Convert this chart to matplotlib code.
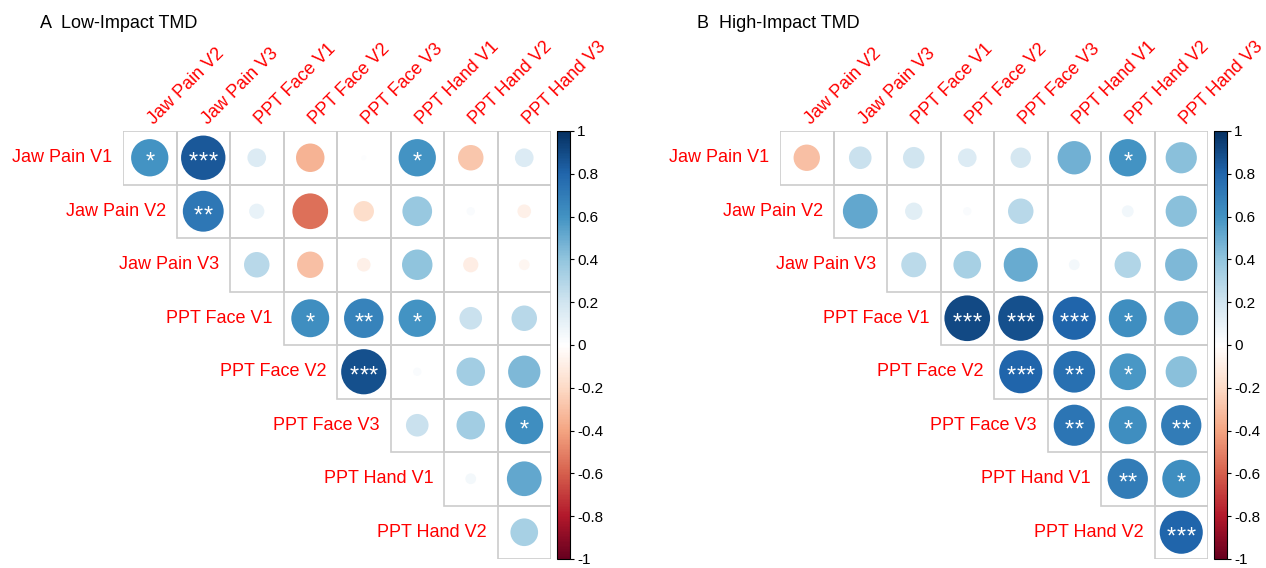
import numpy as np
import matplotlib.pyplot as plt
from matplotlib.colors import LinearSegmentedColormap, Normalize
from matplotlib.patches import Circle, Rectangle
from matplotlib.cm import ScalarMappable

plt.rcParams['font.family'] = ['Liberation Sans', 'DejaVu Sans']

row_labels = ['Jaw Pain V1', 'Jaw Pain V2', 'Jaw Pain V3', 'PPT Face V1',
              'PPT Face V2', 'PPT Face V3', 'PPT Hand V1', 'PPT Hand V2']
col_labels = ['Jaw Pain V2', 'Jaw Pain V3', 'PPT Face V1', 'PPT Face V2',
              'PPT Face V3', 'PPT Hand V1', 'PPT Hand V2', 'PPT Hand V3']

# upper triangle, row i holds columns i..7
low_r = [
    [0.60, 0.85, 0.15, -0.35, 0.01, 0.60, -0.28, 0.15],
    [0.72, 0.10, -0.55, -0.18, 0.38, 0.03, -0.08],
    [0.28, -0.30, -0.08, 0.40, -0.10, -0.05],
    [0.62, 0.67, 0.60, 0.22, 0.28],
    [0.88, 0.03, 0.35, 0.45],
    [0.22, 0.35, 0.62],
    [0.05, 0.52],
    [0.33],
]
low_sig = [
    ['*', '***', '', '', '', '*', '', ''],
    ['**', '', '', '', '', '', ''],
    ['', '', '', '', '', ''],
    ['*', '**', '*', '', ''],
    ['***', '', '', ''],
    ['', '', '*'],
    ['', ''],
    [''],
]

high_r = [
    [-0.30, 0.22, 0.20, 0.15, 0.18, 0.48, 0.60, 0.42],
    [0.52, 0.13, 0.03, 0.28, 0.00, 0.06, 0.42],
    [0.27, 0.33, 0.50, 0.05, 0.30, 0.45],
    [0.90, 0.88, 0.80, 0.62, 0.50],
    [0.80, 0.75, 0.58, 0.42],
    [0.73, 0.62, 0.70],
    [0.70, 0.62],
    [0.80],
]
high_sig = [
    ['', '', '', '', '', '', '*', ''],
    ['', '', '', '', '', '', ''],
    ['', '', '', '', '', ''],
    ['***', '***', '***', '*', ''],
    ['***', '**', '*', ''],
    ['**', '*', '**'],
    ['**', '*'],
    ['***'],
]

cb_ticks = [-1, -0.8, -0.6, -0.4, -0.2, 0, 0.2, 0.4, 0.6, 0.8, 1]

cmap = LinearSegmentedColormap.from_list('rdbu', [
    '#67001F', '#B2182B', '#D6604D', '#F4A582', '#FDDBC7', '#FFFFFF',
    '#D1E5F0', '#92C5DE', '#4393C3', '#2166AC', '#053061'])
norm = Normalize(-1, 1)

W, H = 1266, 568
fig = plt.figure(figsize=(W / 100, H / 100), dpi=100)


def corr_panel(x0, title, vals, sig):
    ax = fig.add_axes([x0 / W, 9 / H, 428 / W, 428 / H])
    ax.set_xlim(-0.5, 7.5)
    ax.set_ylim(7.5, -0.5)
    ax.axis('off')
    for i, row in enumerate(vals):
        for k, r in enumerate(row):
            j = i + k
            ax.add_patch(Rectangle((j - 0.5, i - 0.5), 1, 1, fill=False,
                                   ec='#cccccc', lw=1.2, zorder=1))
            ax.add_patch(Circle((j, i), 0.45 * np.sqrt(abs(r)),
                                color=cmap(norm(r)), lw=0, zorder=2))
            # significance stars, spread a little apart
            n = len(sig[i][k])
            for s in range(n):
                ax.text(j + (s - (n - 1) / 2) * 0.18, i + 0.09, '*',
                        color='white', fontsize=17,
                        ha='center', va='center', zorder=3)
        ax.text(i - 0.7, i, row_labels[i], color='red', fontsize=13,
                ha='right', va='center')
    for j, lab in enumerate(col_labels):
        ax.text(j + 0.08, -0.62, lab, color='red', fontsize=13, rotation=45,
                rotation_mode='anchor', ha='left', va='baseline')
    fig.text(x0 / W - 83 / W, 1 - 28 / H, title, fontsize=13, ha='left',
             va='baseline')

    cax = fig.add_axes([(x0 + 434) / W, 9 / H, 13 / W, 428 / H])
    cb = fig.colorbar(ScalarMappable(norm=norm, cmap=cmap), cax=cax,
                      ticks=cb_ticks)
    cb.ax.set_yticklabels(['%g' % t for t in cb_ticks])
    cb.ax.tick_params(labelsize=11, length=3, width=0.8, pad=2)
    cb.outline.set_linewidth(0.8)


corr_panel(123, 'A  Low-Impact TMD', low_r, low_sig)
corr_panel(780, 'B  High-Impact TMD', high_r, high_sig)

fig.savefig('out.png', dpi=100, facecolor='white')
